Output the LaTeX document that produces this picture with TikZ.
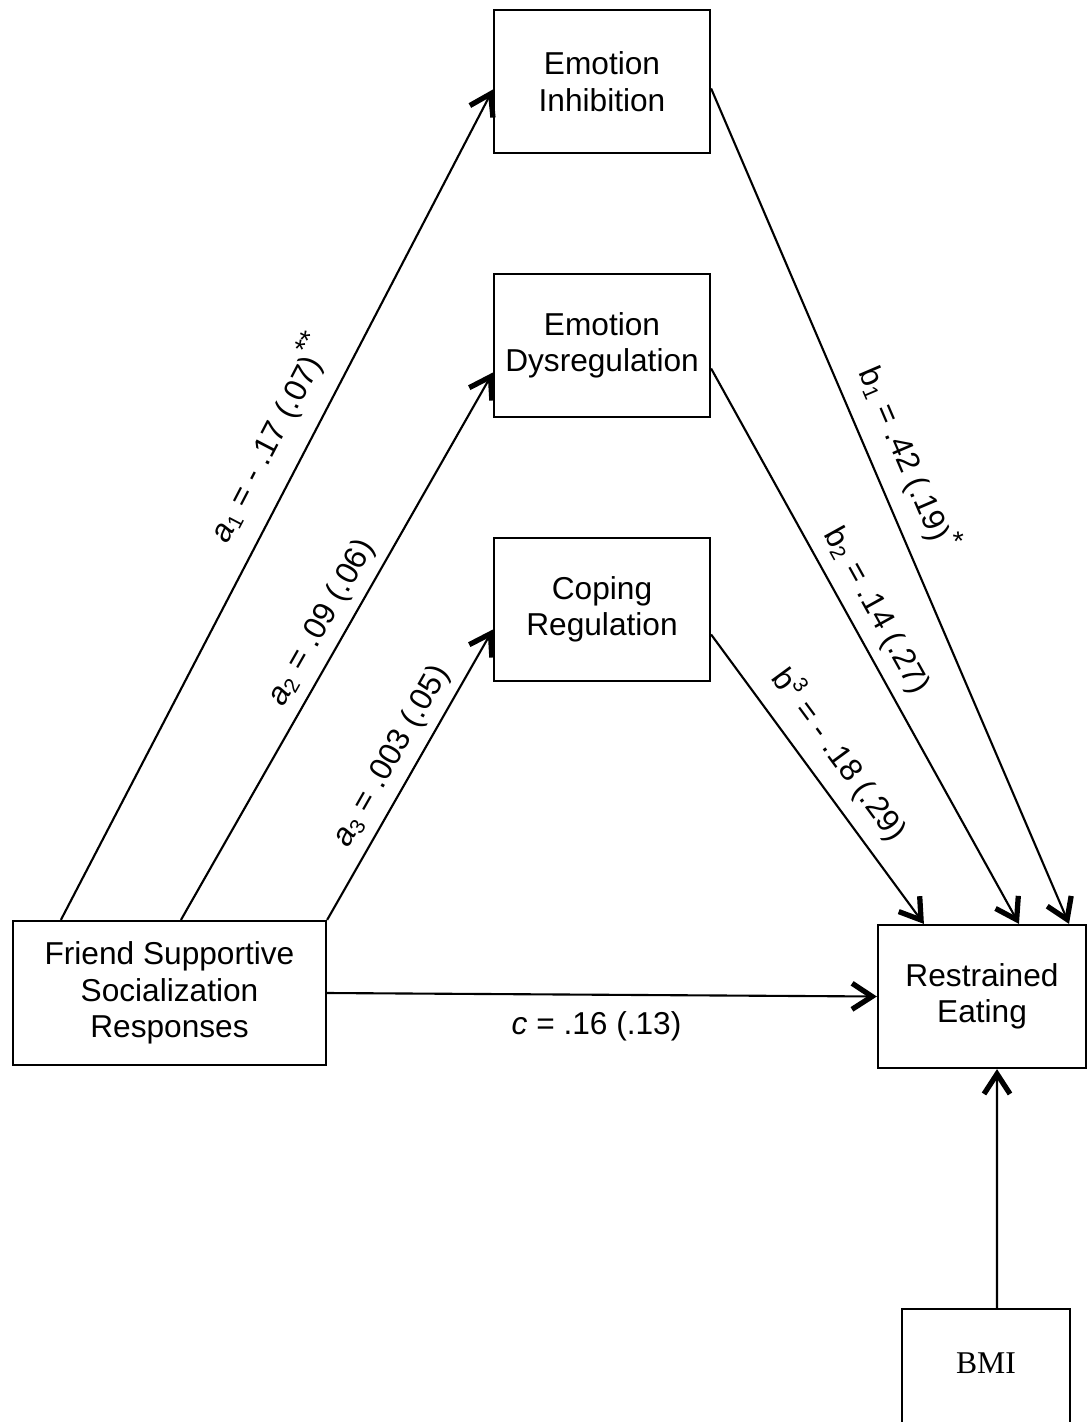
\documentclass[tikz,border=0pt]{standalone}
\usepackage{fontspec}
\setmainfont{Liberation Sans}
\newfontfamily\bmifont{Liberation Serif}
\usetikzlibrary{arrows.meta}

\newcommand{\stars}[1]{\textsuperscript{\fontsize{8}{9}\selectfont #1}}

\begin{document}
\begin{tikzpicture}[
  x=0.01cm, y=-0.01cm,
  every node/.style={font=\fontsize{9}{10.4}\selectfont},
  box/.style={draw, line width=0.6pt, align=center, inner sep=0pt},
  link/.style={draw, line width=0.6pt, -{Straight Barb[length=2mm,width=2.6mm,line width=1.5pt]}},
  coef/.style={sloped, inner sep=1pt}
]
\clip (0,0) rectangle (1088,1422);

% Mediators
\node[box, minimum width=2.16cm, minimum height=1.43cm] (ei) at (602,81.5) {Emotion\\Inhibition};
\node[box, minimum width=2.16cm, minimum height=1.43cm] (ed) at (602,345.5) {Emotion\\Dysregulation};
\node[box, minimum width=2.16cm, minimum height=1.43cm] (cr) at (602,609.5) {Coping\\Regulation};

% Predictor, outcome and covariate
\node[box, minimum width=3.13cm, minimum height=1.44cm] (fsr) at (169.5,993) {Friend Supportive\\Socialization\\Responses};
\node[box, minimum width=2.08cm, minimum height=1.43cm] (re) at (982,996.5) {Restrained\\Eating};
\node[box, font=\fontsize{9}{10.4}\bmifont\selectfont, minimum width=1.68cm, anchor=north,
  text height=0.64cm, text depth=0.80cm] (bmi) at (986,1308) {BMI};

% a paths
\draw[link] ([xshift=0.49cm]fsr.north west) -- node[coef, pos=0.56, above=4pt] (la1)
  {\textit{a}\textsubscript{1} = - .17 (.07)\stars{**}} ([yshift=-0.08cm]ei.west);
\draw[link] ([xshift=1.69cm]fsr.north west) -- node[coef, pos=0.52, above=1.5pt] (la2)
  {\textit{a}\textsubscript{2} = .09 (.06)} ([yshift=-0.27cm]ed.west);
\draw[link] (fsr.north east) -- node[coef, pos=0.52, above=1.5pt] (la3)
  {\textit{a}\textsubscript{3} = .003 (.05)} ([yshift=-0.2cm]cr.west);

% b paths
\draw[link] ([yshift=-0.07cm]ei.east) -- node[coef, pos=0.46, above=3.5pt] (lb1)
  {b\textsubscript{1} = .42 (.19)\stars{*}} ([xshift=1.92cm]re.north west);
\draw[link] ([yshift=-0.23cm]ed.east) -- node[coef, pos=0.46, above=2pt] (lb2)
  {b\textsubscript{2} = .14 (.27)} ([xshift=1.42cm]re.north west);
\draw[link] ([yshift=-0.25cm]cr.east) -- node[coef, pos=0.48, above=3pt] (lb3)
  {b\textsuperscript{3} = - .18 (.29)} ([xshift=0.47cm]re.north west);

% direct path and covariate
\draw[link] (fsr.east) -- node[pos=0.49, below=3.5pt, inner sep=1pt] (lc)
  {\textit{c} = .16 (.13)} (re.west);
\draw[link] ([xshift=0.11cm]bmi.north) -- ([xshift=0.15cm]re.south);

\end{tikzpicture}
\end{document}
